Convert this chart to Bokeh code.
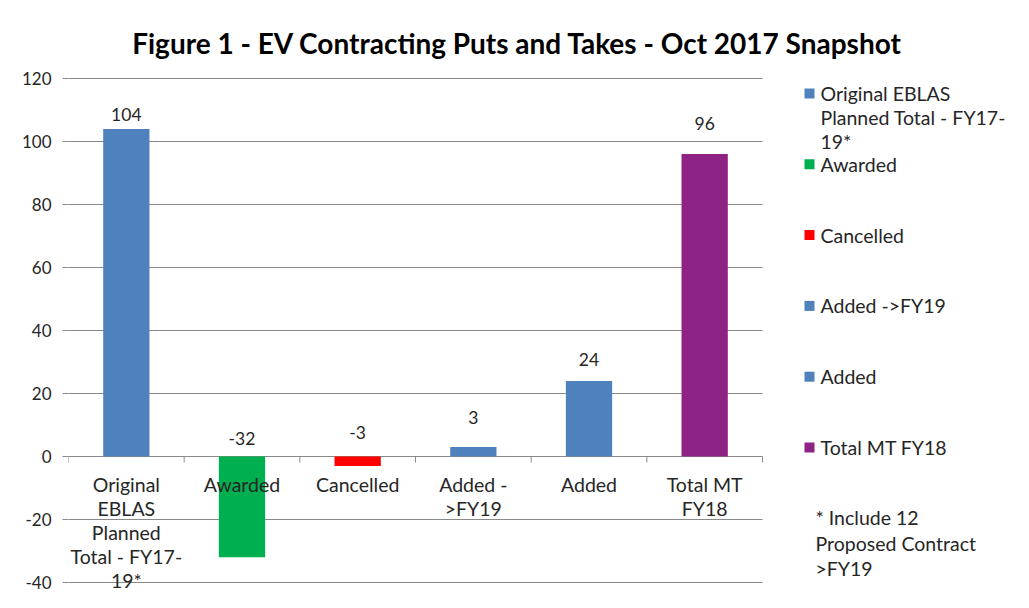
from bokeh.plotting import figure
from bokeh.models import FixedTicker, ColumnDataSource, Range1d
from bokeh.core.properties import value
from bokeh.embed import file_html
from bokeh.resources import INLINE

# ---- data ----
title_text = "Figure 1 - EV Contracting Puts and Takes - Oct 2017 Snapshot"
categories = ["Original\nEBLAS\nPlanned\nTotal - FY17-\n19*", "Awarded", "Cancelled",
              "Added -\n>FY19", "Added", "Total MT\nFY18"]
values = [104, -32, -3, 3, 24, 96]
colors = ["#4F81BD", "#00B050", "#FF0000", "#4F81BD", "#4F81BD", "#8E2385"]
legend_labels = ["Original EBLAS\nPlanned Total - FY17-\n19*", "Awarded", "Cancelled",
                 "Added ->FY19", "Added", "Total MT FY18"]
footnote = "* Include 12\nProposed Contract\n>FY19"
y_ticks = [-40, -20, 0, 20, 40, 60, 80, 100, 120]

# ---- style / layout (pixels) ----
label_offsets = [-14, -18, -24, -30, -21, -31]
FONT = "Lato"
TXT = "#262626"
GRID = "#8A8A8A"
W, H = 1013, 592
LEFT = 68                 # frame left edge
CW = 694 / 6              # category width in px
TOP_PX = 78               # pixel row of the top tick
BOT_PX = 582              # pixel row of the bottom tick
PXY = (BOT_PX - TOP_PX) / (max(y_ticks) - min(y_ticks))
y_hi = max(y_ticks) + TOP_PX / PXY
y_lo = y_hi - H / PXY
x_hi = (W - LEFT) / CW


def fx(px):
    return (px - LEFT) / CW


def fy(py):
    return y_hi - py / PXY


n = len(categories)
centers = [i + 0.5 for i in range(n)]

p = figure(width=W, height=H, output_backend="svg", toolbar_location=None,
           x_range=Range1d(0, x_hi), y_range=Range1d(y_lo, y_hi),
           min_border_left=LEFT, min_border_right=0, min_border_top=0, min_border_bottom=0)
p.outline_line_color = None
p.background_fill_color = "white"
p.border_fill_color = "white"

p.xaxis.visible = False
p.xgrid.visible = False
p.ygrid.visible = False
p.yaxis.ticker = FixedTicker(ticks=y_ticks)
p.yaxis.major_label_overrides = {t: str(t) for t in y_ticks}
p.yaxis.axis_line_color = None
p.yaxis.major_tick_out = 6
p.yaxis.major_tick_in = 0
p.yaxis.major_tick_line_color = GRID
p.yaxis.minor_tick_line_color = None
p.yaxis.major_label_standoff = 11
p.yaxis.major_label_text_font = FONT
p.yaxis.major_label_text_font_size = "17px"
p.yaxis.major_label_text_color = TXT

# gridlines across the category area only
p.segment(x0=[0] * len(y_ticks), x1=[n] * len(y_ticks), y0=y_ticks, y1=y_ticks,
          line_color=GRID, line_width=1)

src = ColumnDataSource(dict(x=centers, top=values, color=colors,
                            lab=[str(v) for v in values],
                            ly=[max(v, 0) for v in values], loff=label_offsets))
p.vbar(x="x", top="top", bottom=0, width=0.4, fill_color="color", line_color=None, source=src)

# category-axis tick marks on the zero line
bounds = list(range(n + 1))
p.segment(x0=bounds, x1=bounds, y0=[0] * len(bounds), y1=[-6 / PXY] * len(bounds),
          line_color=GRID, line_width=1)

# category labels (one row per line)
cx, ct, co = [], [], []
for i, c in enumerate(categories):
    for j, line in enumerate(c.split("\n")):
        cx.append(centers[i]); ct.append(line); co.append(28 + j * 24)
p.text(x=cx, y=[0] * len(cx), text=ct, y_offset=co, text_align="center",
       text_baseline="middle", text_font=value(FONT), text_font_size="19.5px",
       text_color=TXT)

# data labels
p.text(x="x", y="ly", text="lab", source=src, text_align="center", text_baseline="middle",
       y_offset="loff", text_font=value(FONT), text_font_size="17.5px", text_color=TXT)

# title
p.text(x=[fx(517)], y=[fy(42)], text=[title_text], text_align="center",
       text_baseline="middle", text_font=value(FONT), text_font_style="bold",
       text_font_size="28px", text_color="black")

# legend
leg_y0, leg_dy, line_dy = 93, 70.8, 24
sq_x = fx(809)
p.scatter(x=[sq_x] * n, y=[fy(leg_y0 + i * leg_dy) for i in range(n)], marker="square",
          size=10, fill_color=colors, line_color=None)
lx, ly, lt = [], [], []
for i, lab in enumerate(legend_labels):
    for j, line in enumerate(lab.split("\n")):
        lx.append(fx(820)); ly.append(fy(leg_y0 + i * leg_dy + j * line_dy)); lt.append(line)
for j, line in enumerate(footnote.split("\n")):
    lx.append(fx(815)); ly.append(fy(517 + j * 25.5)); lt.append(line)
p.text(x=lx, y=ly, text=lt, text_align="left", text_baseline="middle",
       text_font=value(FONT), text_font_size="19.5px", text_color=TXT)

open("out.html", "w").write(file_html(p, INLINE))
